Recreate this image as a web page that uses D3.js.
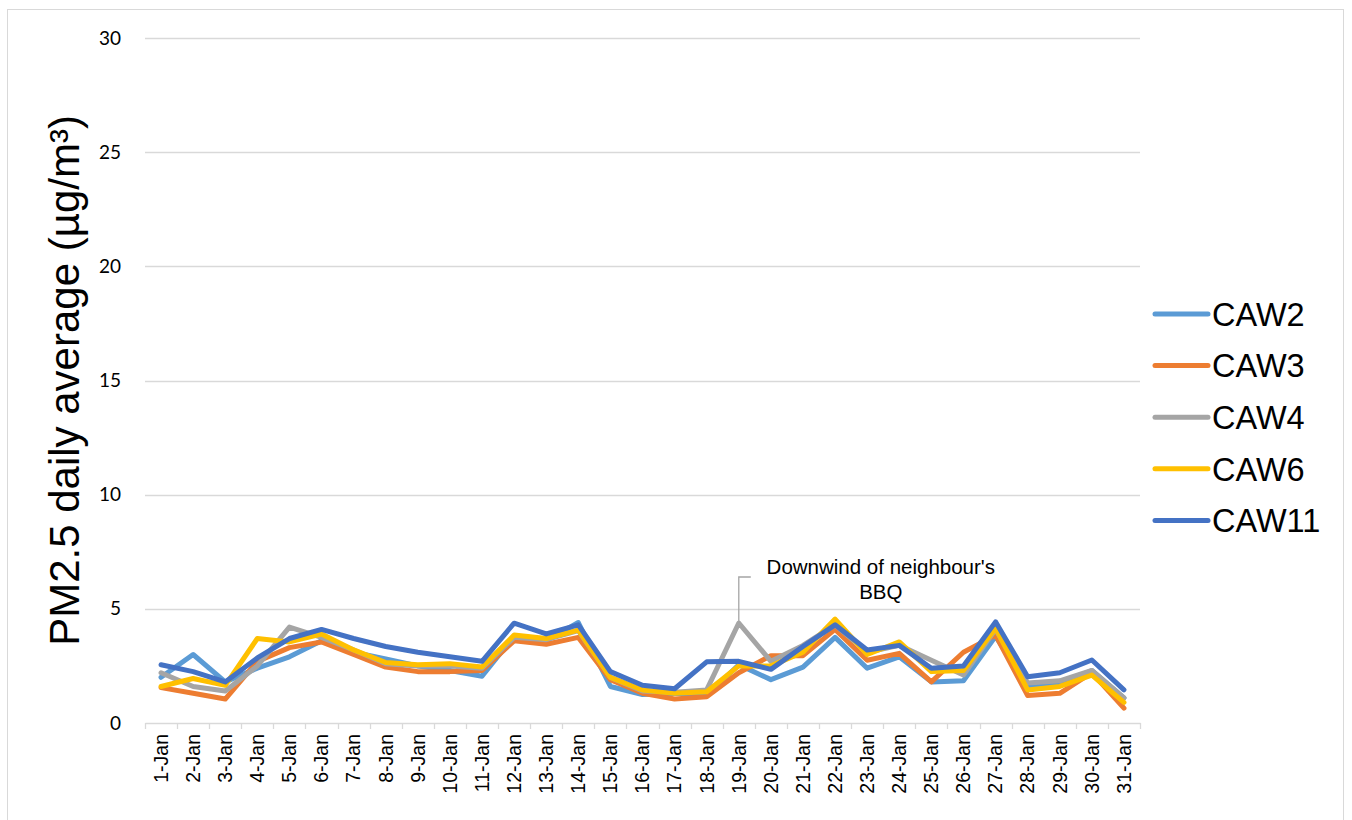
<!DOCTYPE html>
<html>
<head>
<meta charset="utf-8">
<script src="https://cdn.jsdelivr.net/npm/d3@7"></script>
<style>
  body { margin: 0; background: #fff; }
  svg { display: block; }
</style>
</head>
<body>
<div id="content"></div>
<script>
var days = d3.range(1, 32).map(function(d){ return d + '-Jan'; });
var yTicks = [0, 5, 10, 15, 20, 25, 30];

var caw2  = [2.0, 3.0, 1.8, 2.4, 2.9, 3.6, 3.1, 2.8, 2.5, 2.3, 2.05, 3.8, 3.6, 4.4, 1.6, 1.25, 1.3, 1.2, 2.55, 1.9, 2.45, 3.75, 2.4, 2.9, 1.8, 1.85, 3.8, 1.55, 1.7, 2.3, 1.1];
var caw3  = [1.55, 1.3, 1.05, 2.7, 3.3, 3.55, 3.0, 2.45, 2.25, 2.25, 2.3, 3.6, 3.45, 3.75, 1.9, 1.3, 1.05, 1.15, 2.2, 2.95, 2.95, 4.1, 2.75, 3.05, 1.8, 3.1, 3.85, 1.2, 1.3, 2.2, 0.65];
var caw4  = [2.2, 1.6, 1.4, 2.5, 4.2, 3.75, 3.2, 2.6, 2.5, 2.5, 2.4, 3.75, 3.65, 4.05, 2.0, 1.4, 1.35, 1.45, 4.38, 2.7, 3.4, 4.3, 3.1, 3.4, 2.75, 2.1, 4.1, 1.75, 1.85, 2.3, 1.1];
var caw6  = [1.6, 1.95, 1.65, 3.7, 3.55, 3.9, 3.2, 2.65, 2.55, 2.6, 2.45, 3.85, 3.7, 4.07, 2.0, 1.45, 1.3, 1.37, 2.5, 2.5, 3.1, 4.55, 3.0, 3.55, 2.25, 2.3, 4.15, 1.45, 1.6, 2.1, 0.9];
var caw11 = [2.55, 2.25, 1.8, 2.85, 3.7, 4.1, 3.7, 3.35, 3.1, 2.9, 2.7, 4.37, 3.9, 4.3, 2.25, 1.65, 1.5, 2.68, 2.7, 2.35, 3.35, 4.3, 3.2, 3.4, 2.4, 2.5, 4.43, 2.03, 2.2, 2.76, 1.45];

var seriesNames = ['CAW2', 'CAW3', 'CAW4', 'CAW6', 'CAW11'];
var seriesValues = [caw2, caw3, caw4, caw6, caw11];
var seriesColors = ['#5B9BD5', '#ED7D31', '#A5A5A5', '#FFC000', '#4472C4'];

var annotationLines = ["Downwind of neighbour's", 'BBQ'];
var annotationDay = '19-Jan';

var W = 1352, H = 820;
var margin = { top: 38, right: 212, bottom: 97, left: 145 };
var width = W - margin.left - margin.right,
    height = H - margin.top - margin.bottom;

var svg = d3.select('#content').append('svg')
    .attr('width', W)
    .attr('height', H);

// outer chart border
svg.append('rect')
    .attr('x', 7.5).attr('y', 9.5)
    .attr('width', 1336).attr('height', 830)
    .style('fill', 'none')
    .style('stroke', '#d9d9d9');

var g = svg.append('g')
    .attr('transform', 'translate(' + margin.left + ',' + margin.top + ')');

var xScale = d3.scaleBand()
    .domain(days)
    .range([0, width]);

var yScale = d3.scaleLinear()
    .domain([0, 30])
    .range([height, 0]);

// gridlines
g.selectAll('.grid').data(yTicks.filter(function(d){ return d > 0; }))
    .enter().append('line')
    .attr('x1', 0).attr('x2', width)
    .attr('y1', function(d){ return Math.round(yScale(d)) + 0.5; })
    .attr('y2', function(d){ return Math.round(yScale(d)) + 0.5; })
    .style('stroke', '#d9d9d9')
    .style('stroke-width', 1.3);

// y axis labels
var vAxis = d3.axisLeft(yScale).tickValues(yTicks).tickSize(0).tickPadding(24);
var vGuide = g.append('g');
vAxis(vGuide);
vGuide.select('.domain').remove();
vGuide.selectAll('text')
    .style('font-family', 'Lato, "Open Sans", sans-serif')
    .style('font-size', '19px')
    .style('fill', '#000');

// x axis
var hAxis = d3.axisBottom(xScale).tickSize(0).tickPadding(0);
var hGuide = g.append('g')
    .attr('transform', 'translate(0,' + height + ')');
hAxis(hGuide);
hGuide.select('.domain')
    .style('stroke', '#d9d9d9')
    .style('stroke-width', 1.5);
hGuide.selectAll('text')
    .attr('transform', 'rotate(-90)')
    .attr('x', -11)
    .attr('y', 0)
    .attr('dy', '0.35em')
    .style('text-anchor', 'end')
    .style('font-family', '"Liberation Sans", Arial, sans-serif')
    .style('font-size', '19.5px')
    .style('fill', '#000');

// tick marks at band boundaries
g.selectAll('.xtick').data(d3.range(0, days.length + 1))
    .enter().append('line')
    .attr('x1', function(i){ return Math.round(i * xScale.bandwidth()) + 0.5; })
    .attr('x2', function(i){ return Math.round(i * xScale.bandwidth()) + 0.5; })
    .attr('y1', height).attr('y2', height + 6)
    .style('stroke', '#d9d9d9')
    .style('stroke-width', 1.3);

var line = d3.line()
    .x(function(d, i){ return xScale(days[i]) + xScale.bandwidth() / 2; })
    .y(function(d){ return yScale(d); });

seriesValues.forEach(function(vals, k){
    g.append('path')
        .datum(vals)
        .attr('d', line)
        .style('fill', 'none')
        .style('stroke', seriesColors[k])
        .style('stroke-width', 5)
        .style('stroke-linejoin', 'round')
        .style('stroke-linecap', 'round');
});

// annotation with leader line
var ai = days.indexOf(annotationDay);
var ax = xScale(annotationDay) + xScale.bandwidth() / 2;
var ay = yScale(caw4[ai]);
g.append('path')
    .attr('d', 'M' + ax + ',' + ay + 'V' + (ay - 46) + 'H' + (ax + 12))
    .style('fill', 'none')
    .style('stroke', '#a5a5a5')
    .style('stroke-width', 1.3);
g.append('text')
    .attr('x', ax + 142)
    .attr('y', ay - 49)
    .style('text-anchor', 'middle')
    .style('font-family', '"Liberation Sans", Arial, sans-serif')
    .style('font-size', '20.5px')
    .style('fill', '#000')
    .selectAll('tspan').data(annotationLines)
    .enter().append('tspan')
    .attr('x', ax + 142)
    .attr('dy', function(d, i){ return i === 0 ? 0 : 25; })
    .text(function(d){ return d; });

// y axis title
svg.append('text')
    .attr('transform', 'translate(79,' + (margin.top + height / 2) + ') rotate(-90)')
    .style('text-anchor', 'middle')
    .style('font-family', '"Liberation Sans", Arial, sans-serif')
    .style('font-size', '42px')
    .style('fill', '#000')
    .text('PM2.5 daily average (µg/m³)');

// legend
var legend = svg.append('g')
    .attr('transform', 'translate(1153,314)');
var item = legend.selectAll('g').data(seriesNames)
    .enter().append('g')
    .attr('transform', function(d, i){ return 'translate(0,' + (i * 51.6) + ')'; });
item.append('line')
    .attr('x1', 2).attr('x2', 55)
    .attr('y1', 0).attr('y2', 0)
    .style('stroke', function(d, i){ return seriesColors[i]; })
    .style('stroke-width', 5)
    .style('stroke-linecap', 'round');
item.append('text')
    .attr('x', 59)
    .attr('y', 0)
    .attr('dy', '0.36em')
    .style('font-family', '"Liberation Sans", Arial, sans-serif')
    .style('font-size', '32.5px')
    .style('fill', '#000')
    .text(function(d){ return d; });
</script>
</body>
</html>
